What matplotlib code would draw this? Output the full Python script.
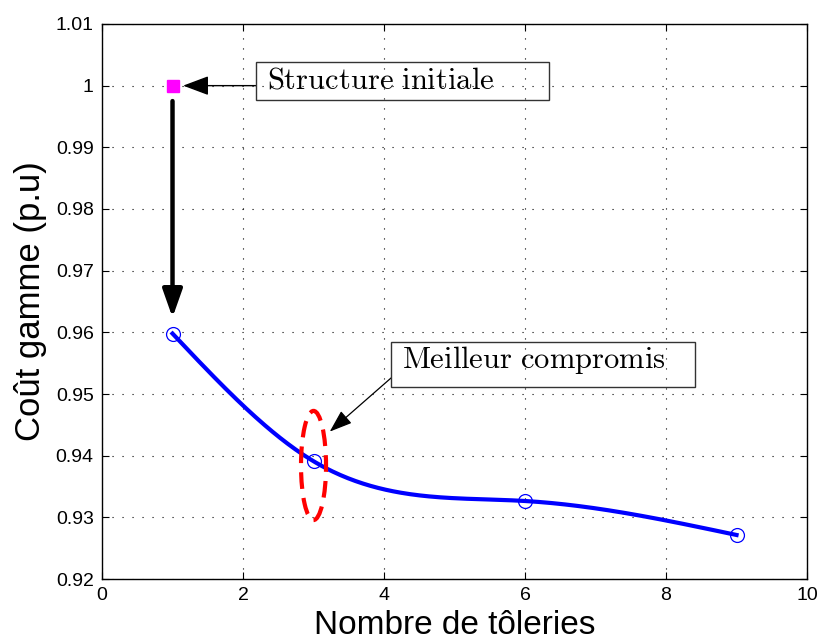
import numpy as np
import matplotlib
matplotlib.use("Agg")
import matplotlib.pyplot as plt
from matplotlib.patches import Ellipse, Rectangle

plt.rcParams['font.family'] = ['Liberation Sans', 'DejaVu Sans']
plt.rcParams['mathtext.fontset'] = 'cm'

# number of sheet-metal parts vs normalised range cost
nb_toleries = [1, 3, 6, 9]
cout_gamme = [0.9598, 0.9391, 0.93265, 0.92714]
structure_init = (1, 1.0)
compromis_x = 3


def natural_spline(x, y, xs):
    x = np.asarray(x, float)
    y = np.asarray(y, float)
    n = len(x)
    h = np.diff(x)
    d = np.diff(y) / h
    A = np.zeros((n, n))
    b = np.zeros(n)
    A[0, 0] = A[-1, -1] = 1
    for i in range(1, n - 1):
        A[i, i - 1] = h[i - 1]
        A[i, i] = 2 * (h[i - 1] + h[i])
        A[i, i + 1] = h[i]
        b[i] = 6 * (d[i] - d[i - 1])
    M = np.linalg.solve(A, b)
    k = np.clip(np.searchsorted(x, xs) - 1, 0, n - 2)
    t0 = xs - x[k]
    t1 = x[k + 1] - xs
    hk = h[k]
    return ((M[k] * t1 ** 3 + M[k + 1] * t0 ** 3) / (6 * hk)
            + (y[k] / hk - M[k] * hk / 6) * t1
            + (y[k + 1] / hk - M[k + 1] * hk / 6) * t0)


fig = plt.figure(figsize=(8.22, 6.41), dpi=100)
ax = fig.add_axes([0.1241, 0.0967, 0.8577, 0.8659])

xs = np.linspace(nb_toleries[0], nb_toleries[-1], 300)
ax.plot(xs, natural_spline(nb_toleries, cout_gamme, xs), color='blue', lw=3, zorder=3)
ax.plot(nb_toleries, cout_gamme, 'o', mfc='none', mec='blue', ms=10, mew=0.9, zorder=4)
ax.plot(*structure_init, 's', color='magenta', ms=8, zorder=4)

# vertical arrow from the initial structure down to the first optimum
ax.annotate('', xy=(1, 0.9624), xytext=(1, 0.9975),
            arrowprops=dict(arrowstyle='-|>,head_length=1.7,head_width=0.6',
                            color='black', lw=3.2, shrinkA=0, shrinkB=0))

# text boxes (transparent, grid shows through)
ax.add_patch(Rectangle((2.18, 0.99768), 4.16, 0.00616, fill=False,
                       ec='#333333', lw=1.0, zorder=5))
ax.text(2.34, 0.99946, r'$\mathrm{Structure\ initiale}$', fontsize=22,
        va='baseline', ha='left', zorder=6)
ax.annotate('', xy=(1.15, 1.0), xytext=(2.18, 1.0),
            arrowprops=dict(arrowstyle='-|>,head_length=1.6,head_width=0.6',
                            color='black', lw=1.0, shrinkA=0, shrinkB=0))

ax.add_patch(Rectangle((4.10, 0.95114), 4.31, 0.00729, fill=False,
                       ec='#333333', lw=1.0, zorder=5))
ax.text(4.26, 0.95422, r'$\mathrm{Meilleur\ compromis}$', fontsize=22,
        va='baseline', ha='left', zorder=6)
ax.annotate('', xy=(3.23, 0.9439), xytext=(4.1, 0.9526),
            arrowprops=dict(arrowstyle='-|>,head_length=1.4,head_width=0.5',
                            color='black', lw=0.9, shrinkA=0, shrinkB=0))

ax.add_patch(Ellipse((compromis_x, 0.93841), 0.355, 0.0177, fill=False,
                     ec='red', lw=3, ls=(0, (4, 2.2)), zorder=5))

ax.set_xlim(0, 10)
ax.set_ylim(0.92, 1.01)
ax.set_xticks(np.arange(0, 11, 2))
ax.set_yticks(np.arange(0.92, 1.0101, 0.01))
ax.set_yticklabels(['0.92', '0.93', '0.94', '0.95', '0.96', '0.97', '0.98', '0.99', '1', '1.01'])
ax.grid(True, ls=(0, (1, 8)), color='black', lw=0.8)
ax.tick_params(direction='in', top=True, right=True, labelsize=14, length=5, width=0.8, pad=6)
for s in ax.spines.values():
    s.set_linewidth(1.0)

ax.set_xlabel('Nombre de tôleries', fontsize=24, labelpad=4)
ax.set_ylabel('Coût gamme (p.u)', fontsize=25, labelpad=6)

fig.savefig('out.png', dpi=100)
